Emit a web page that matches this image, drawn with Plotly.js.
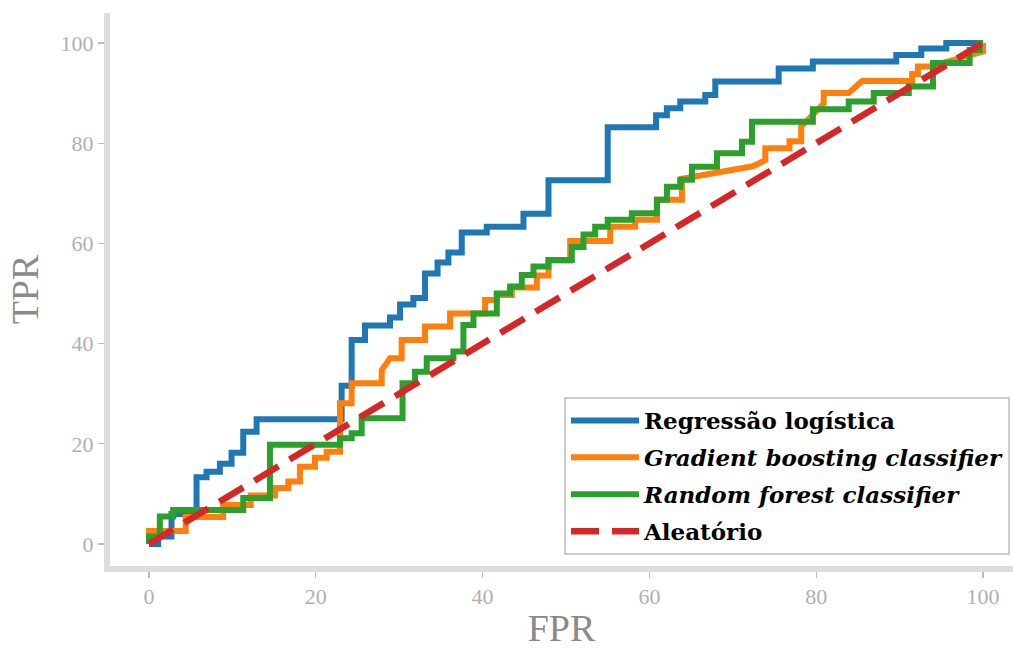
<!DOCTYPE html>
<html>
<head>
<meta charset="utf-8">
<script src="https://cdn.plot.ly/plotly-3.0.1.min.js"></script>
<style>html,body{margin:0;padding:0;background:#fff;}#chart{width:1013px;height:649px;}</style>
</head>
<body>
<div id="chart"></div>
<script>
// ROC curves (FPR, TPR in %)
const lrFpr = [0,1.1,1.1,2.7,2.7,5.7,5.7,6.9,6.9,8.5,8.5,9.9,9.9,11.3,11.3,12.9,12.9,23.1,23.1,24.3,24.3,25.9,25.9,28.9,28.9,30.1,30.1,31.7,31.7,33.1,33.1,34.6,34.6,35.9,35.9,37.5,37.5,40.5,40.5,44.9,44.9,47.9,47.9,55.0,55.0,60.8,60.8,62.1,62.1,63.7,63.7,66.7,66.7,67.9,67.9,75.5,75.5,79.6,79.6,89.6,89.6,92.6,92.6,95.6,95.6,100];
const lrTpr = [0,0,1.5,1.5,6.0,6.0,13.3,13.3,14.4,14.4,16.0,16.0,18.2,18.2,22.4,22.4,24.9,24.9,31.6,31.6,40.7,40.7,43.6,43.6,45.2,45.2,47.8,47.8,49.1,49.1,54.0,54.0,56.2,56.2,58.2,58.2,62.2,62.2,63.3,63.3,65.9,65.9,72.6,72.6,83.2,83.2,85.6,85.6,87.0,87.0,88.3,88.3,89.6,89.6,92.3,92.3,94.9,94.9,96.3,96.3,97.6,97.6,98.9,98.9,100,100];

const gbFpr = [0,0,4.4,4.4,8.9,8.9,12.2,12.2,15.1,15.1,16.7,16.7,18.1,18.1,19.9,19.9,21.3,21.3,22.9,22.9,24.3,24.3,27.9,27.9,28.9,30.3,30.3,33.1,33.1,36.1,36.1,40.3,40.3,41.7,41.7,43.5,43.5,46.5,46.5,47.9,47.9,50.5,50.5,55.3,55.3,58.3,58.3,60.9,60.9,63.9,63.9,72.4,73.9,73.9,76.8,76.8,78.2,78.2,80.9,80.9,83.9,85.5,91.5,91.5,92.2,92.2,93.6,100,100];
const gbTpr = [0,2.6,2.6,5.4,5.4,7.8,7.8,9.7,9.7,11.2,11.2,12.5,12.5,15.4,15.4,17.2,17.2,18.4,18.4,28.1,28.1,32.1,32.1,34.7,37.1,37.1,40.7,40.7,43.4,43.4,46.0,46.0,48.7,48.7,49.7,49.7,51.2,51.2,53.6,53.6,56.6,56.6,60.5,60.5,63.3,63.3,64.7,64.7,68.7,68.7,72.9,75.4,76.6,79.0,79.0,80.4,80.4,83.3,87.9,90.0,90.0,92.4,92.4,93.8,93.8,95.3,95.3,98.3,100];

const rfFpr = [0,0,1.3,1.3,2.9,2.9,11.3,11.3,14.5,14.5,22.9,22.9,24.3,24.3,25.5,25.5,30.4,30.4,31.9,31.9,33.3,33.3,36.5,36.5,37.7,37.7,38.9,38.9,41.7,41.7,43.3,43.3,44.7,44.7,46.1,46.1,47.9,47.9,50.7,50.7,52.1,52.1,53.5,53.5,55.0,55.0,57.9,57.9,60.9,60.9,62.1,62.1,63.7,63.7,65.1,65.1,68.1,68.1,71.1,71.1,72.3,72.3,79.6,79.6,83.9,83.9,86.9,86.9,91.1,91.1,94.0,94.0,98.4,98.4,99.6,99.6,100];
const rfTpr = [0,1.5,1.5,5.5,5.5,6.8,6.8,9.2,9.2,19.8,19.8,21.1,21.1,22.1,22.1,25.1,25.1,32.1,32.1,34.4,34.4,37.1,37.1,38.4,38.4,43.7,43.7,46.0,46.0,50.0,50.0,51.4,51.4,53.7,53.7,55.4,55.4,56.7,56.7,59.3,59.3,61.8,61.8,63.3,63.3,64.7,64.7,66.0,66.0,68.7,68.7,71.3,71.3,72.7,72.7,75.3,75.3,78.0,78.0,80.3,80.3,84.3,84.3,86.8,86.8,88.3,88.3,90.0,90.0,91.3,91.3,96.0,96.0,98.6,98.6,100,100];

const randFpr = [0, 100];
const randTpr = [0, 100];

const seriesNames = ['<b>Regressão logística</b>', '<b><i>Gradient boosting classifier</i></b>', '<b><i>Random forest classifier</i></b>', '<b>Aleatório</b>'];
const tickVals = [0, 20, 40, 60, 80, 100];

const colors = ['#1f77b4', '#ff7f0e', '#2ca02c', '#d62728'];
const xs = [lrFpr, gbFpr, rfFpr, randFpr];
const ys = [lrTpr, gbTpr, rfTpr, randTpr];

const traces = xs.map((x, i) => ({
  x: x, y: ys[i], type: 'scatter', mode: 'lines', name: seriesNames[i],
  legendgroup: 'g' + i,
  line: {color: colors[i], width: i === 3 ? 6.5 : 6, dash: i === 3 ? '28px,13px' : 'solid'},
  hoverinfo: 'skip'
}));

// pixel mapping from the reference: x=0 at 149px, 8.34 px/unit; y=0 at 544px, 5.01 px/unit
const L = 110, T = 13, B = 566, W = 1013, H = 649;
const xr = [(L - 149) / 8.34, (W - 149) / 8.34];
const yr = [(544 - B) / 5.01, (544 - T) / 5.01];

const tickFont = {family: 'Liberation Serif, serif', size: 22, color: '#b0b0b0'};
const titleFont = {family: 'Liberation Serif, serif', size: 38, color: '#8a8a8a'};

const layout = {
  width: W, height: H,
  margin: {l: L, r: 0, t: T, b: H - B},
  paper_bgcolor: '#ffffff', plot_bgcolor: '#ffffff',
  showlegend: true,
  xaxis: {
    range: xr, tickvals: tickVals, ticktext: tickVals.map(String),
    showgrid: false, zeroline: false, showline: true, linecolor: '#dddddd', linewidth: 6,
    ticks: 'outside', ticklen: 6, tickcolor: '#bbbbbb', tickwidth: 1.2,
    tickfont: tickFont,
    title: {text: 'FPR', font: titleFont, standoff: 8}
  },
  yaxis: {
    range: yr, tickvals: tickVals, ticktext: tickVals.map(String),
    showgrid: false, zeroline: false, showline: true, linecolor: '#dddddd', linewidth: 6,
    ticks: 'outside', ticklen: 6, tickcolor: '#bbbbbb', tickwidth: 1.2,
    tickfont: tickFont,
    title: {text: 'TPR', font: titleFont, standoff: 12}
  },
  legend: {
    x: (1010 - L) / (W - L), y: (B - 555) / (B - T), xanchor: 'right', yanchor: 'bottom',
    bgcolor: '#ffffff', bordercolor: '#cccccc', borderwidth: 2,
    font: {family: 'DejaVu Serif, serif', size: 23, color: '#000000'},
    tracegroupgap: 4, itemwidth: 68
  }
};

Plotly.newPlot('chart', traces, layout, {displayModeBar: false, staticPlot: true});
</script>
</body>
</html>
